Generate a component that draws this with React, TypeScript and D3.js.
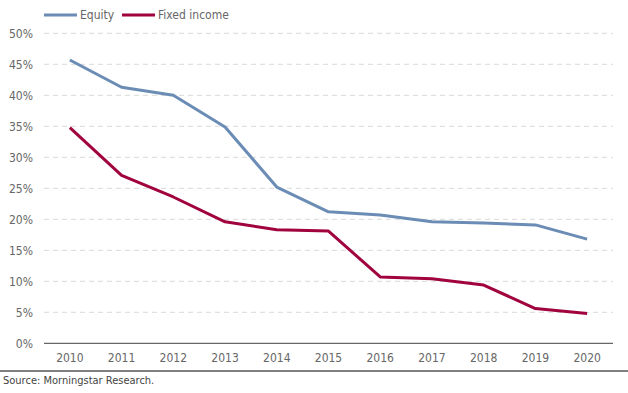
import React, { useEffect, useRef } from 'react';
import * as d3 from 'd3';

const years = ['2010', '2011', '2012', '2013', '2014', '2015', '2016', '2017', '2018', '2019', '2020'];
const equity = [45.7, 41.3, 40.0, 34.9, 25.2, 21.2, 20.7, 19.6, 19.4, 19.1, 16.8];
const fixedIncome = [34.8, 27.1, 23.6, 19.6, 18.3, 18.1, 10.7, 10.4, 9.4, 5.6, 4.8];
const yTicks = [0, 5, 10, 15, 20, 25, 30, 35, 40, 45, 50];
const seriesNames = ['Equity', 'Fixed income'];
const seriesColors = ['#6b8cb5', '#a0033e'];

const FONT = '"Liberation Sans Narrow", "DejaVu Sans Condensed", "Roboto", sans-serif';

const App = () => {
  const ref = useRef<SVGSVGElement>(null);

  useEffect(() => {
    const width = 628;
    const height = 393;
    const left = 44;
    const right = 613;
    const top = 33.3;
    const bottom = 343.3;

    const svg = d3.select(ref.current);
    svg.selectAll('*').remove();
    svg.attr('width', width).attr('height', height);

    const x = d3.scaleBand().domain(years).range([left, right]).padding(0);
    const y = d3.scaleLinear().domain([0, 50]).range([bottom, top]);

    // gridlines
    svg
      .append('g')
      .selectAll('line')
      .data(yTicks.filter((t) => t > 0))
      .enter()
      .append('line')
      .attr('x1', left)
      .attr('x2', right)
      .attr('y1', (d) => y(d))
      .attr('y2', (d) => y(d))
      .attr('stroke', '#d9d9d9')
      .attr('stroke-width', 1)
      .attr('stroke-dasharray', '5,4');

    // y labels
    svg
      .append('g')
      .selectAll('text')
      .data(yTicks)
      .enter()
      .append('text')
      .attr('x', 33)
      .attr('y', (d) => y(d))
      .attr('dy', '0.35em')
      .attr('text-anchor', 'end')
      .attr('font-family', FONT)
      .attr('font-size', 12)
      .attr('fill', '#666')
      .text((d) => `${d}%`);

    // x axis line
    svg
      .append('line')
      .attr('x1', left)
      .attr('x2', right)
      .attr('y1', y(0))
      .attr('y2', y(0))
      .attr('stroke', '#404040')
      .attr('stroke-width', 1);

    // x labels
    svg
      .append('g')
      .selectAll('text')
      .data(years)
      .enter()
      .append('text')
      .attr('x', (d) => (x(d) as number) + x.bandwidth() / 2)
      .attr('y', 362)
      .attr('text-anchor', 'middle')
      .attr('font-family', FONT)
      .attr('font-size', 12)
      .attr('fill', '#666')
      .text((d) => d);

    // lines
    const line = d3
      .line<number>()
      .x((d, i) => (x(years[i]) as number) + x.bandwidth() / 2)
      .y((d) => y(d));

    [equity, fixedIncome].forEach((series, i) => {
      svg
        .append('path')
        .datum(series)
        .attr('d', line)
        .attr('fill', 'none')
        .attr('stroke', seriesColors[i])
        .attr('stroke-width', 3)
        .attr('stroke-linejoin', 'round');
    });

    // legend
    const legendX = [44, 122];
    seriesNames.forEach((name, i) => {
      const g = svg.append('g').attr('transform', `translate(${legendX[i]}, 15)`);
      g.append('line')
        .attr('x1', 0)
        .attr('x2', 33)
        .attr('stroke', seriesColors[i])
        .attr('stroke-width', 3);
      g.append('text')
        .attr('x', 36)
        .attr('dy', '0.35em')
        .attr('font-family', FONT)
        .attr('font-size', 12)
        .attr('fill', '#666')
        .text(name);
    });

    // source rule + note
    svg
      .append('line')
      .attr('x1', 0)
      .attr('x2', width)
      .attr('y1', 371)
      .attr('y2', 371)
      .attr('stroke', '#000')
      .attr('stroke-width', 1);
    svg
      .append('text')
      .attr('x', 3)
      .attr('y', 384)
      .attr('font-family', FONT)
      .attr('font-size', 11)
      .attr('fill', '#444')
      .text('Source: Morningstar Research.');
  }, []);

  return <svg ref={ref} style={{ position: 'absolute', left: 0, top: 0, display: 'block' }} />;
};

export default App;
